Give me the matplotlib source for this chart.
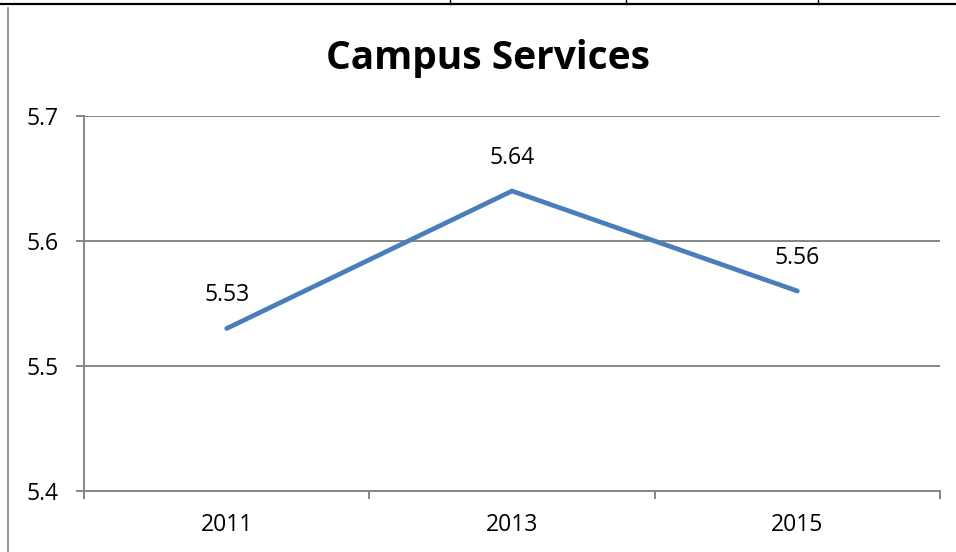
import matplotlib
matplotlib.use("Agg")
import matplotlib.pyplot as plt
from matplotlib.lines import Line2D

years = ["2011", "2013", "2015"]
scores = [5.53, 5.64, 5.56]
score_labels = ["5.53", "5.64", "5.56"]
y_ticks = [5.4, 5.5, 5.6, 5.7]

plt.rcParams["font.family"] = ["Open Sans", "DejaVu Sans"]

W, H = 956, 552
fig = plt.figure(figsize=(W / 100, H / 100), dpi=100)

# page table borders around the chart
fig.add_artist(Line2D([0, 1], [1 - 4 / H, 1 - 4 / H], color="black", lw=1.6))
for px in [450, 626, 818]:
    fig.add_artist(Line2D([px / W, px / W], [1 - 4 / H, 1], color="black", lw=1.0))
fig.add_artist(Line2D([8 / W, 8 / W], [0, 1 - 8 / H], color="#808080", lw=1.2))

# plot area in pixels
left, top, right, bottom = 84, 116, 940, 491
ax = fig.add_axes([left / W, 1 - bottom / H, (right - left) / W, (bottom - top) / H])

grid_c = "#868686"
fs = 16.5
x = list(range(len(years)))
ax.plot(x, scores, color="#4a7ebb", lw=3.4, solid_capstyle="round", solid_joinstyle="miter", zorder=3)

for xi, v, lab in zip(x, scores, score_labels):
    ax.annotate(lab, (xi, v), xytext=(0, 24), textcoords="offset points",
                ha="center", va="center", fontsize=fs)

ax.set_xlim(-0.5, len(years) - 0.5)
ax.set_ylim(5.4, 5.7)
ax.set_yticks(y_ticks)
ax.set_yticklabels([f"{t:.1f}" for t in y_ticks], fontsize=fs)
ax.set_xticks(x)
ax.set_xticklabels(years, fontsize=fs)
ax.set_xticks([i - 0.5 for i in range(len(years) + 1)], minor=True)
ax.tick_params(axis="x", which="major", length=0, pad=16)
ax.tick_params(axis="x", which="minor", length=6, width=1.4, color=grid_c)
ax.tick_params(axis="y", length=6, width=1.4, color=grid_c, pad=12)

ax.yaxis.grid(True, color=grid_c, lw=1.4)
ax.set_axisbelow(True)
for s in ["top", "right"]:
    ax.spines[s].set_visible(False)
for s in ["left", "bottom"]:
    ax.spines[s].set_color(grid_c)
    ax.spines[s].set_linewidth(1.4)

fig.text(488 / W, 1 - 58 / H, "Campus Services", ha="center", va="center",
         fontsize=28, fontweight="bold")

fig.savefig("out.png", dpi=100)
